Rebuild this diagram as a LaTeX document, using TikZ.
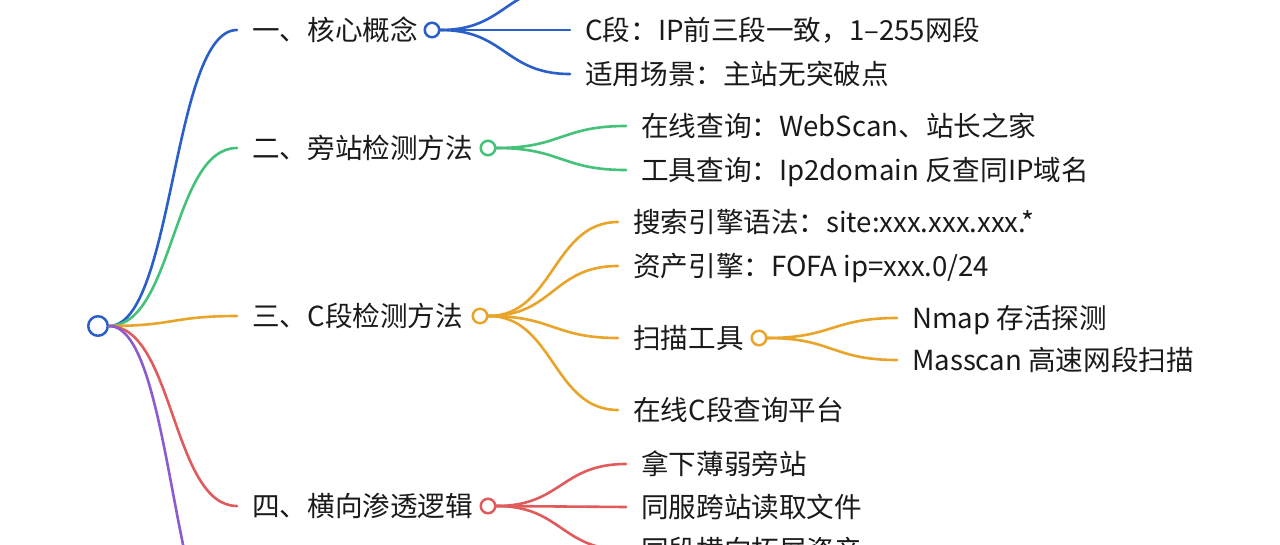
\documentclass[tikz,border=0pt]{standalone}
\usepackage{fontspec}
\setmainfont{Noto Sans CJK SC}
\definecolor{cb}{HTML}{2A5FC8}
\definecolor{cg}{HTML}{45C27A}
\definecolor{co}{HTML}{E9A42A}
\definecolor{cr}{HTML}{E05B5B}
\definecolor{cp}{HTML}{8B5BD0}
\definecolor{ink}{HTML}{1A1A1A}
\begin{document}
\begin{tikzpicture}[x=1pt,y=-1pt,
  txt/.style={anchor=west,inner xsep=15pt,inner ysep=0pt,text height=24.5pt,text depth=3.5pt,
    font=\fontsize{27.6}{27.6}\selectfont,text=ink},
  dot/.style={circle,draw,fill=white,line width=2.5pt,minimum size=14.5pt,inner sep=0pt},
  link/.style={line width=2.6pt,line cap=round,
    to path={.. controls ([xshift=65pt]\tikztostart) and ([xshift=-65pt]\tikztotarget) .. (\tikztotarget)}}]
\useasboundingbox (0,0) rectangle (1280,544);
\clip (0,0) rectangle (1280,544);
\fill[white] (0,0) rectangle (1280,544);

% level 1
\node[txt] (l1) at (237,30) {一、核心概念};
\node[txt] (l2) at (237,148) {二、旁站检测方法};
\node[txt] (l3) at (237,316) {三、C段检测方法};
\node[txt] (l4) at (237,506) {四、横向渗透逻辑};
\coordinate (l5) at (237,660);

% blue children
\node[txt] (b1) at (570,-14) {旁站：同一服务器不同站点};
\node[txt] (b2) at (570,30) {C段：IP前三段一致，1–255网段};
\node[txt] (b3) at (570,74) {适用场景：主站无突破点};

% green children
\node[txt] (g1) at (626,126) {在线查询：WebScan、站长之家};
\node[txt] (g2) at (626,170) {工具查询：Ip2domain 反查同IP域名};

% orange children
\node[txt] (o1) at (618,222) {搜索引擎语法：site:xxx.xxx.xxx.*};
\node[txt] (o2) at (618,266) {资产引擎：FOFA ip=xxx.0/24};
\node[txt] (o3) at (618,338) {扫描工具};
\node[txt] (o4) at (618,410) {在线C段查询平台};
\node[txt] (s1) at (897,318) {Nmap 存活探测};
\node[txt] (s2) at (897,360) {Masscan 高速网段扫描};

% red children
\node[txt] (r1) at (626,464) {拿下薄弱旁站};
\node[txt] (r2) at (626,507) {同服跨站读取文件};
\node[txt] (r3) at (626,550) {同段横向拓展资产};

% circles
\node[dot,draw=cb,minimum size=19.5pt] (root) at (98,326) {};
\node[dot,draw=cb] (d1) at (432,30) {};
\node[dot,draw=cg] (d2) at (488,148) {};
\node[dot,draw=co] (d3) at (480,316) {};
\node[dot,draw=co] (d31) at (759,338) {};
\node[dot,draw=cr] (d4) at (488,506) {};

% root links
\draw[link,cb] (root.east) to (l1.west);
\draw[link,cg] (root.east) to (l2.west);
\draw[link,co] (root.east) to (l3.west);
\draw[link,cr] (root.east) to (l4.west);
\draw[link,cp] (root.east) to (l5);

% child links
\draw[link,cb] (d1.east) to (b1.west);
\draw[link,cb] (d1.east) to (b2.west);
\draw[link,cb] (d1.east) to (b3.west);
\draw[link,cg] (d2.east) to (g1.west);
\draw[link,cg] (d2.east) to (g2.west);
\draw[link,co] (d3.east) to (o1.west);
\draw[link,co] (d3.east) to (o2.west);
\draw[link,co] (d3.east) to (o3.west);
\draw[link,co] (d3.east) to (o4.west);
\draw[link,co] (d31.east) to (s1.west);
\draw[link,co] (d31.east) to (s2.west);
\draw[link,cr] (d4.east) to (r1.west);
\draw[link,cr] (d4.east) to (r2.west);
\draw[link,cr] (d4.east) to (r3.west);
\end{tikzpicture}
\end{document}
